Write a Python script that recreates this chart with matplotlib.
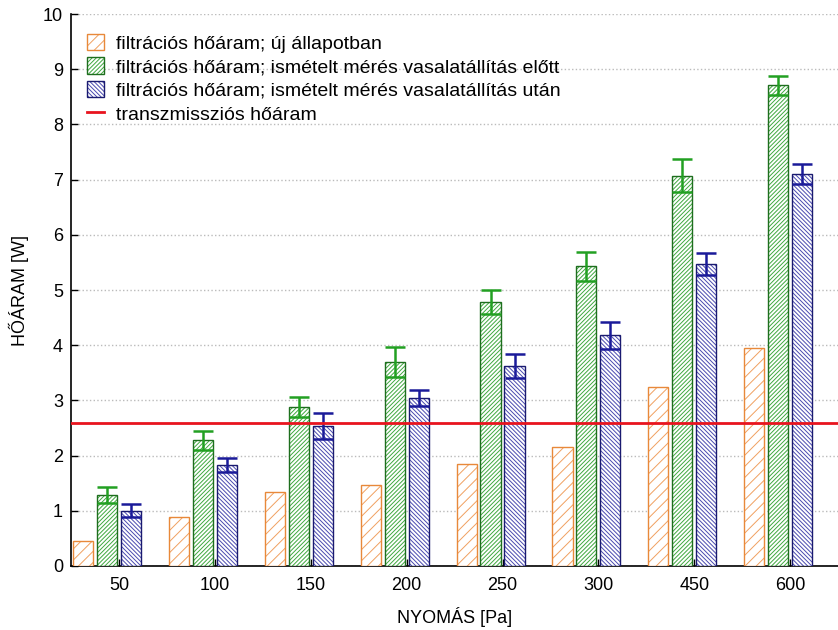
import matplotlib.pyplot as plt
import numpy as np

plt.rcParams['font.family'] = ['Liberation Sans', 'DejaVu Sans']
plt.rcParams['hatch.linewidth'] = 0.7

# data
pressures = ['50', '100', '150', '200', '250', '300', '450', '600']
uj = [0.45, 0.89, 1.34, 1.47, 1.85, 2.16, 3.24, 3.95]
elott = [1.29, 2.28, 2.88, 3.70, 4.78, 5.43, 7.07, 8.71]
elott_err = [0.14, 0.17, 0.18, 0.27, 0.22, 0.26, 0.30, 0.17]
utan = [1.00, 1.83, 2.54, 3.04, 3.62, 4.18, 5.47, 7.10]
utan_err = [0.12, 0.12, 0.23, 0.15, 0.22, 0.25, 0.20, 0.18]
transzmisszios = 2.6

labels = ['filtrációs hőáram; új állapotban',
          'filtrációs hőáram; ismételt mérés vasalatállítás előtt',
          'filtrációs hőáram; ismételt mérés vasalatállítás után',
          'transzmissziós hőáram']

x = np.arange(len(pressures))
w = 0.21

fig = plt.figure(figsize=(8.38, 6.3), dpi=100)
ax = fig.add_axes([0.085, 0.1016, 0.915, 0.876])


def hatched_bars(pos, vals, hatch, hatch_col, edge_col):
    # hatch drawn in a lighter colour, outline drawn on top
    h = ax.bar(pos, vals, w, facecolor='white', edgecolor=hatch_col, hatch=hatch,
               linewidth=0, zorder=3)
    e = ax.bar(pos, vals, w, facecolor='none', edgecolor=edge_col, linewidth=1.0, zorder=3)
    return (h[0], e[0])


h1 = hatched_bars(x - 0.375, uj, '///', '#F0A060', '#E8893A')
h2 = hatched_bars(x - 0.125, elott, '////////', '#3FA83F', '#1E6E1E')
h3 = hatched_bars(x + 0.125, utan, '\\\\\\\\\\\\\\\\', '#4A4AB0', '#1A1A70')

ax.errorbar(x - 0.125, elott, yerr=elott_err, fmt='none', ecolor='#22A022',
            elinewidth=1.8, capsize=7.5, capthick=1.8, zorder=4)
ax.errorbar(x + 0.125, utan, yerr=utan_err, fmt='none', ecolor='#1A1A99',
            elinewidth=1.8, capsize=7.5, capthick=1.8, zorder=4)
line = ax.axhline(transzmisszios, color='#E8141E', linewidth=2, zorder=5)

ax.set_xlim(-0.5, len(pressures) - 0.5)
ax.set_ylim(0, 10)
ax.set_yticks(range(0, 11))
ax.set_xticks(x)
ax.set_xticklabels(pressures)
ax.tick_params(direction='in', labelsize=13, length=5, width=1)
ax.tick_params(axis='x', pad=8)
ax.tick_params(axis='y', pad=6)
ax.yaxis.grid(True, linestyle=':', color='#bbbbbb', linewidth=1)
ax.set_axisbelow(True)
for s in ['top', 'right']:
    ax.spines[s].set_visible(False)
ax.spines['left'].set_linewidth(1.2)
ax.spines['bottom'].set_linewidth(1.2)

ax.set_xlabel('NYOMÁS [Pa]', fontsize=13, labelpad=9)
ax.set_ylabel('HŐÁRAM [W]', fontsize=13, labelpad=10)

ax.legend([h1, h2, h3, line], labels,
          loc='upper left', frameon=False, fontsize=14, handlelength=0.9,
          handleheight=0.9, handletextpad=0.6, labelspacing=0.25,
          bbox_to_anchor=(-0.005, 0.9995), borderaxespad=0.6)

fig.savefig('out.png', dpi=100)
